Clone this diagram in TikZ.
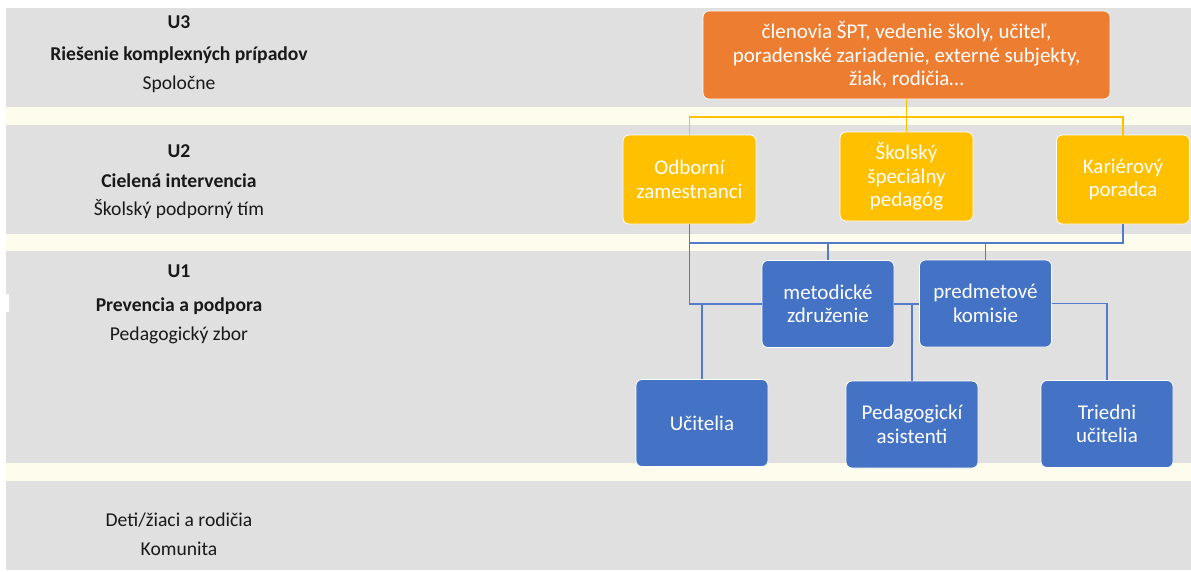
\documentclass[tikz,border=0pt]{standalone}
\usepackage{fontspec}
\setmainfont{Carlito}
\definecolor{bandgrey}{RGB}{224,224,224}
\definecolor{bandcream}{RGB}{254,252,236}
\definecolor{orangebox}{RGB}{237,125,49}
\definecolor{yellowbox}{RGB}{255,192,0}
\definecolor{bluebox}{RGB}{68,114,196}
\definecolor{blueline}{RGB}{84,122,202}
\definecolor{yellowline}{RGB}{255,192,0}
\definecolor{labeltext}{RGB}{25,25,25}
\begin{document}
\begin{tikzpicture}[x=1pt,y=-1pt,
  box/.style={rectangle, rounded corners=6pt, draw=white, line width=0.8pt, text=white, align=center, inner sep=0pt, font=\fontsize{21}{23.5}\selectfont},
  obox/.style={box, fill=orangebox, minimum width=407pt, minimum height=88pt},
  ybox/.style={box, fill=yellowbox, minimum width=133pt, minimum height=89pt},
  bbox/.style={box, fill=bluebox, minimum width=132pt, minimum height=87pt},
  lbl/.style={anchor=base, text=labeltext, inner sep=0pt, font=\fontsize{19.6}{22}\selectfont},
  blbl/.style={lbl, font=\fontsize{19.6}{22}\selectfont\bfseries},
  yconn/.style={draw=yellowline, line width=1.2pt},
  bconn/.style={draw=blueline, line width=1.2pt},
]
\useasboundingbox (0,0) rectangle (1191,571);
% bands
\fill[bandgrey] (6,8) rectangle (1191,107);
\fill[bandcream] (6,107) rectangle (1191,125);
\fill[bandgrey] (6,125) rectangle (1191,234);
\fill[bandcream] (6,234) rectangle (1191,251);
\fill[bandgrey] (6,251) rectangle (1191,463);
\fill[bandcream] (6,463) rectangle (1191,481);
\fill[bandgrey] (6,481) rectangle (1191,570);
\fill[white] (0,294) rectangle (9,312);

% left labels
\node[blbl] (u3) at (179,28) {U3};
\node[blbl] (u3t) at (179,60) {Riešenie komplexných prípadov};
\node[lbl] (u3s) at (179,89) {Spoločne};
\node[blbl] (u2) at (179,157) {U2};
\node[blbl] (u2t) at (179,187) {Cielená intervencia};
\node[lbl] (u2s) at (179,215) {Školský podporný tím};
\node[blbl] (u1) at (179,277) {U1};
\node[blbl] (u1t) at (179,311) {Prevencia a podpora};
\node[lbl] (u1s) at (179,340) {Pedagogický zbor};
\node[lbl] (u0a) at (179,526) {Deti/žiaci a rodičia};
\node[lbl] (u0b) at (179,555) {Komunita};

% boxes
\node[obox] (top) at (906.5,55) {členovia ŠPT, vedenie školy, učiteľ,\\poradenské zariadenie, externé subjekty,\\žiak, rodičia…};
\node[ybox] (odb) at (689.5,179.5) {Odborní\\zamestnanci};
\node[ybox] (skol) at (906.5,176.5) {Školský\\špeciálny\\pedagóg};
\node[ybox] (kar) at (1123,179.5) {Kariérový\\poradca};
\node[bbox] (met) at (828,304) {metodické\\združenie};
\node[bbox] (pred) at (985.5,303.5) {predmetové\\komisie};
\node[bbox] (uci) at (702,423) {Učitelia};
\node[bbox] (ped) at (912,424.5) {Pedagogickí\\asistenti};
\node[bbox] (tri) at (1107,424) {Triedni\\učitelia};

% yellow connectors
\coordinate (yj) at (906.5,117);
\draw[yconn] (top.south) -- (skol.north);
\draw[yconn] (odb.north) |- (yj) -| (kar.north);

% blue connectors
\coordinate (bj) at (828,243);
\draw[bconn] (odb.south) |- (met.west);
\draw[bconn] (odb.south |- bj) -- (kar.south |- bj) -- (kar.south);
\draw[bconn] (met.north) -- (met.north |- bj);
\draw[bconn] (pred.north) -- (pred.north |- bj);
\draw[bconn] (uci.north) -- (uci.north |- met.west);
\draw[bconn] (met.east) -- (met.east -| pred.west);
\draw[bconn] (ped.north) -- (ped.north |- met.east);
\draw[bconn] (pred.east) -| (tri.north);
\end{tikzpicture}
\end{document}
